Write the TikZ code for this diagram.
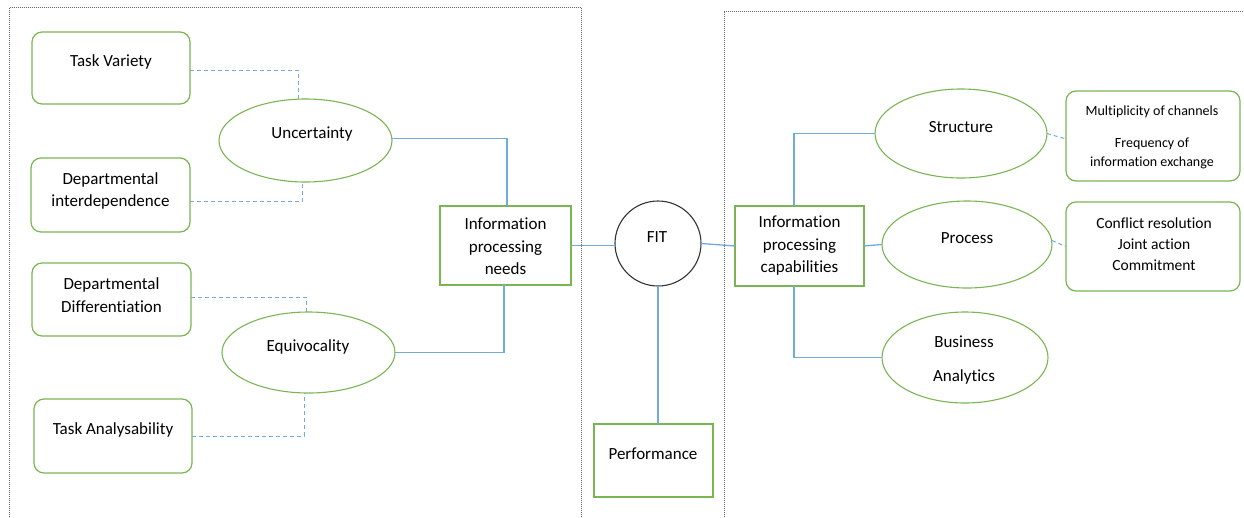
\documentclass[tikz,border=0pt]{standalone}
\usepackage{fontspec}
\setmainfont{Carlito}[Ligatures=NoCommon]
\usetikzlibrary{shapes.geometric}
\definecolor{grn}{HTML}{7AB553}
\definecolor{blu}{HTML}{72AADC}
\begin{document}
\begin{tikzpicture}[x=1pt,y=-1pt,
  shp/.style={inner sep=0pt,outer sep=0pt,minimum width=#1},
  rbox/.style={shp=#1,draw=grn,line width=1.2pt,rounded corners=10pt},
  sbox/.style={shp=#1,draw=grn,line width=1.2pt},
  ell/.style={shp=#1,ellipse,draw=grn,line width=1.1pt},
  fitc/.style={shp=#1,ellipse,draw=black!80,line width=1.1pt},
  txt/.style={inner sep=0pt,align=center,font=\fontsize{17}{22.5}\selectfont},
  link/.style={draw=blu,line width=1.3pt},
  dlink/.style={draw=blu,line width=1pt,dash pattern=on 4pt off 3pt},
  frame/.style={draw=black!60,line width=0.8pt,dash pattern=on 1pt off 1pt}]
\useasboundingbox (0,0) rectangle (1244,517);
% frames
\draw[frame] (9.6,517) -- (9.6,7) -- (581,7) -- (581,517);
\draw[frame] (724,517) -- (724,11) -- (1244,11);
% left shapes
\node[rbox=158pt,minimum height=72pt] (tv) at (111,68) {};
\node[rbox=159pt,minimum height=74pt] (di) at (110.5,195) {};
\node[rbox=159pt,minimum height=73pt] (dd) at (111.5,299.5) {};
\node[rbox=158pt,minimum height=74pt] (ta) at (113,436) {};
\node[ell=173pt,minimum height=83pt] (unc) at (305.5,140.5) {};
\node[ell=173pt,minimum height=81pt] (eq) at (308.5,352.5) {};
\node[sbox=131pt,minimum height=79pt] (ipn) at (505.5,245.5) {};
% centre
\node[fitc=86pt,minimum height=85pt] (fit) at (658,243.5) {};
\node[sbox=119pt,minimum height=73pt] (perf) at (653.5,460.5) {};
% right shapes
\node[sbox=129pt,minimum height=80pt] (ipc) at (799.5,246) {};
\node[ell=172pt,minimum height=89pt] (str) at (961,133.5) {};
\node[ell=170pt,minimum height=87pt] (proc) at (967,244.5) {};
\node[ell=166pt,minimum height=91pt] (ba) at (965,357.5) {};
\node[rbox=174pt,minimum height=90pt] (mult) at (1153,136) {};
\node[rbox=174pt,minimum height=89pt] (conf) at (1153,246.5) {};
% texts
\node[txt] (tv-t) at (111,62) {Task Variety};
\node[txt] (di-t) at (110.5,191) {Departmental\\interdependence};
\node[txt] (dd-t) at (111.5,295) {Departmental\\Differentiation};
\node[txt] (ta-t) at (113,430) {Task Analysability};
\node[txt] (unc-t) at (312,134) {Uncertainty};
\node[txt] (eq-t) at (308,347) {Equivocality};
\node[txt] (ipn-t) at (505.5,246.5) {Information\\processing\\needs};
\node[txt] (fit-t) at (657,237) {FIT};
\node[txt] (perf-t) at (653,454) {Performance};
\node[txt] (ipc-t) at (799.5,246) {Information\\processing\\capabilities};
\node[txt] (str-t) at (961,127) {Structure};
\node[txt] (proc-t) at (967,238) {Process};
\node[txt,font=\fontsize{17}{34}\selectfont] (ba-t) at (964,360) {Business\\Analytics};
\node[txt,font=\fontsize{14}{19}\selectfont] (mult-t) at (1152,137) {Multiplicity of channels\\[13pt]Frequency of\\information exchange};
\node[txt,font=\fontsize{15.5}{21}\selectfont] (conf-t) at (1154,244.5) {Conflict resolution\\Joint action\\Commitment};
% dashed connectors
\draw[dlink] ([yshift=-2pt]tv.east) -| ([xshift=-7pt]unc.north);
\draw[dlink] ([yshift=-6pt]di.east) -| ([xshift=-3pt]unc.south);
\draw[dlink] ([yshift=2.5pt]dd.east) -| ([xshift=-2.5pt]eq.north);
\draw[dlink] (ta.east) -| ([xshift=-4.5pt]eq.south);
\draw[dlink] (str.east) -- ([yshift=-3pt]mult.west);
\draw[dlink] ([yshift=4pt]proc.east) -- (conf.west);
% solid connectors
\draw[link] ([yshift=2pt]unc.east) -| ([xshift=1.5pt]ipn.north);
\draw[link] (eq.east) -| ([xshift=-1.5pt]ipn.south);
\draw[link] (ipn.east) -- (fit.west |- ipn.east);
\draw[link] (fit.east) -- (ipc.west);
\draw[link] (fit.south) -- (fit.south |- perf.north);
\draw[link] ([xshift=-5.5pt]ipc.north) |- (str.west);
\draw[link] (ipc.east) -- (proc.west);
\draw[link] ([xshift=-5.5pt]ipc.south) |- (ba.west);
\end{tikzpicture}
\end{document}
